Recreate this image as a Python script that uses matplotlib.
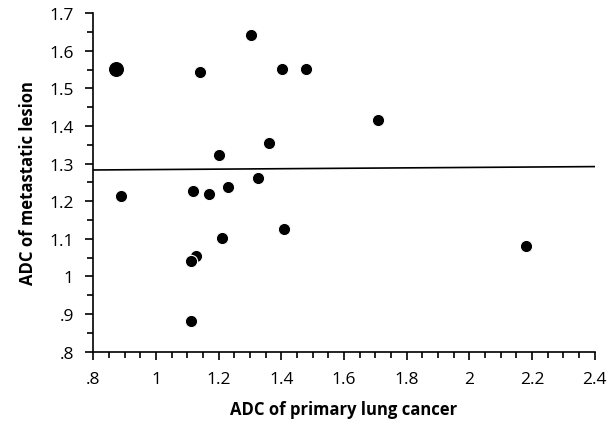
import matplotlib
matplotlib.use("Agg")
import matplotlib.pyplot as plt
from matplotlib.ticker import MultipleLocator, FixedLocator

# ADC values
adc_primary = [1.140, 1.302, 1.401, 1.478, 1.708, 1.362, 1.202, 1.325, 0.889,
               1.119, 1.168, 1.229, 1.407, 1.211, 1.128, 1.112, 1.113, 2.180]
adc_metastatic = [1.543, 1.642, 1.552, 1.552, 1.416, 1.355, 1.323, 1.261, 1.215,
                  1.228, 1.219, 1.238, 1.125, 1.102, 1.054, 1.041, 0.882, 1.082]

# one point drawn bigger (two overlapping cases)
big_primary = [0.873]
big_metastatic = [1.551]

# fitted line end points
fit_x = [0.8, 2.4]
fit_y = [1.283, 1.292]

x_ticks = [0.8, 1.0, 1.2, 1.4, 1.6, 1.8, 2.0, 2.2, 2.4]
x_labels = [".8", "1", "1.2", "1.4", "1.6", "1.8", "2", "2.2", "2.4"]
y_ticks = [0.8, 0.9, 1.0, 1.1, 1.2, 1.3, 1.4, 1.5, 1.6, 1.7]
y_labels = [".8", ".9", "1", "1.1", "1.2", "1.3", "1.4", "1.5", "1.6", "1.7"]

plt.rcParams['font.family'] = ['Open Sans', 'DejaVu Sans']

fig = plt.figure(figsize=(6.1, 4.27), dpi=100)
ax = fig.add_axes([0.153, 0.174, 0.822, 0.793])

ax.plot(fit_x, fit_y, color="black", linewidth=1.2, zorder=2)
ax.scatter(adc_primary, adc_metastatic, s=78, color="black",
           edgecolor="white", linewidth=0.8, zorder=3)
ax.scatter(big_primary, big_metastatic, s=135, color="black",
           edgecolor="white", linewidth=0.8, zorder=3)

ax.set_xlim(0.8, 2.4)
ax.set_ylim(0.8, 1.7)
ax.xaxis.set_major_locator(FixedLocator(x_ticks))
ax.set_xticklabels(x_labels)
ax.yaxis.set_major_locator(FixedLocator(y_ticks))
ax.set_yticklabels(y_labels)
ax.xaxis.set_minor_locator(MultipleLocator(0.05))
ax.yaxis.set_minor_locator(MultipleLocator(0.05))

ax.tick_params(which="major", direction="out", length=6, width=1.2,
               labelsize=12.5, pad=8)
ax.tick_params(which="minor", direction="out", length=4, width=1.2)

ax.spines['top'].set_visible(False)
ax.spines['right'].set_visible(False)
ax.spines['left'].set_linewidth(1.2)
ax.spines['bottom'].set_linewidth(1.2)

ax.set_xlabel("ADC of primary lung cancer", fontsize=12, fontweight="bold", labelpad=9)
ax.set_ylabel("ADC of metastatic lesion", fontsize=12, fontweight="bold", labelpad=9)

fig.savefig("out.png", dpi=100)
